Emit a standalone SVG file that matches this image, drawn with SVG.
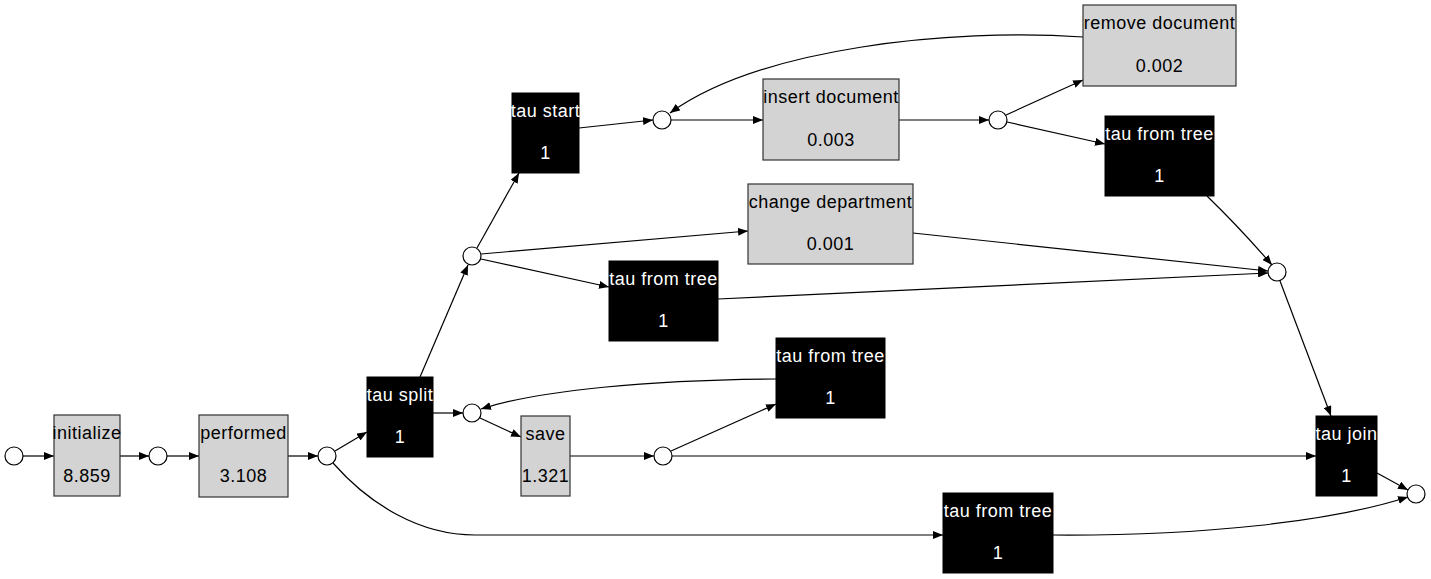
<svg xmlns="http://www.w3.org/2000/svg" width="1431" height="579" viewBox="0 0 1431 579">
<defs>
<marker id="ah" viewBox="0 0 10 8" refX="10" refY="4" markerWidth="10" markerHeight="8" markerUnits="userSpaceOnUse" orient="auto">
<path d="M0,0 L10,4 L0,8 z" fill="#000"/>
</marker>
<style>
.pl{fill:#fff;stroke:#000;stroke-width:1.2}
.tg{fill:#d3d3d3;stroke:#333;stroke-width:1.2}
.tb{fill:#000;stroke:#000;stroke-width:1}
.e{fill:none;stroke:#000;stroke-width:1.2;marker-end:url(#ah)}
text{font-family:"Liberation Sans",Arial,sans-serif;font-size:18px;letter-spacing:0.5px;text-anchor:middle}
.lg{fill:#000}
.lb{fill:#fff}
</style>
</defs>
<rect width="1431" height="579" fill="#fff"/>
<g id="connectors">
<path class="e" d="M23,456 L54,456"/>
<path class="e" d="M120,456 L149,456"/>
<path class="e" d="M167,456 L199,456"/>
<path class="e" d="M288,456 L318,456"/>
<path class="e" d="M335,451 L367,432"/>
<path class="e" d="M333,463 C370,505 420,535 475,535 L943,535"/>
<path class="e" d="M420,377 L468,265"/>
<path class="e" d="M433,413 L463,413"/>
<path class="e" d="M477,248 L519,173"/>
<path class="e" d="M481,254 L748,231"/>
<path class="e" d="M481,259 L609,287"/>
<path class="e" d="M579,128 L653,120"/>
<path class="e" d="M671,120 L763,120"/>
<path class="e" d="M899,120 L989,120"/>
<path class="e" d="M1006,115 L1083,80"/>
<path class="e" d="M1007,122 L1105,144"/>
<path class="e" d="M1083,37 C950,28 760,48 670,113"/>
<path class="e" d="M1207,196 Q1240,228 1272,265"/>
<path class="e" d="M913,233 L1268,271"/>
<path class="e" d="M718,299 L1268,273"/>
<path class="e" d="M1280,281 L1331,416"/>
<path class="e" d="M1377,473 L1408,490"/>
<path class="e" d="M1053,535 C1200,536 1330,522 1408,497"/>
<path class="e" d="M480,418 L521,437"/>
<path class="e" d="M570,456 L654,456"/>
<path class="e" d="M671,451 L776,404"/>
<path class="e" d="M672,456 L1316,456"/>
<path class="e" d="M776,379 C650,380 540,390 481,409"/>
</g>
<g id="p0"><circle class="pl" cx="14" cy="456" r="9"/></g>
<g id="p1"><circle class="pl" cx="158" cy="456" r="9"/></g>
<g id="p2"><circle class="pl" cx="327" cy="456" r="9"/></g>
<g id="p3"><circle class="pl" cx="472" cy="256" r="9"/></g>
<g id="p4"><circle class="pl" cx="472" cy="413" r="9"/></g>
<g id="p5"><circle class="pl" cx="662" cy="120" r="9"/></g>
<g id="p6"><circle class="pl" cx="998" cy="120" r="9"/></g>
<g id="p7"><circle class="pl" cx="1277" cy="272" r="9"/></g>
<g id="p8"><circle class="pl" cx="663" cy="456" r="9"/></g>
<g id="p9"><circle class="pl" cx="1416" cy="494" r="9"/></g>
<g id="t_initialize"><rect class="tg" x="54" y="415" width="66" height="81"/><text class="lg" x="87" y="439">initialize</text><text class="lg" x="87" y="482">8.859</text></g>
<g id="t_performed"><rect class="tg" x="199" y="415" width="89" height="82"/><text class="lg" x="243.5" y="439">performed</text><text class="lg" x="243.5" y="482">3.108</text></g>
<g id="t_tausplit"><rect class="tb" x="367" y="377" width="66" height="80"/><text class="lb" x="400" y="401">tau split</text><text class="lb" x="400" y="443">1</text></g>
<g id="t_save"><rect class="tg" x="521" y="416" width="49" height="80"/><text class="lg" x="545.5" y="440">save</text><text class="lg" x="545.5" y="482">1.321</text></g>
<g id="t_taustart"><rect class="tb" x="512" y="93" width="67" height="80"/><text class="lb" x="545.5" y="117">tau start</text><text class="lb" x="545.5" y="159">1</text></g>
<g id="t_insert"><rect class="tg" x="763" y="79" width="136" height="81"/><text class="lg" x="831" y="103">insert document</text><text class="lg" x="831" y="146">0.003</text></g>
<g id="t_remove"><rect class="tg" x="1083" y="5" width="153" height="81"/><text class="lg" x="1159.5" y="29">remove document</text><text class="lg" x="1159.5" y="72">0.002</text></g>
<g id="t_tau_tr"><rect class="tb" x="1105" y="116" width="109" height="80"/><text class="lb" x="1159.5" y="140">tau from tree</text><text class="lb" x="1159.5" y="182">1</text></g>
<g id="t_change"><rect class="tg" x="748" y="184" width="165" height="80"/><text class="lg" x="830.5" y="208">change department</text><text class="lg" x="830.5" y="250">0.001</text></g>
<g id="t_tau_mid"><rect class="tb" x="609" y="261" width="109" height="80"/><text class="lb" x="663.5" y="285">tau from tree</text><text class="lb" x="663.5" y="327">1</text></g>
<g id="t_tau_low"><rect class="tb" x="776" y="338" width="109" height="80"/><text class="lb" x="830.5" y="362">tau from tree</text><text class="lb" x="830.5" y="404">1</text></g>
<g id="t_tau_bot"><rect class="tb" x="943" y="493" width="110" height="80"/><text class="lb" x="998" y="517">tau from tree</text><text class="lb" x="998" y="559">1</text></g>
<g id="t_taujoin"><rect class="tb" x="1316" y="416" width="61" height="80"/><text class="lb" x="1346.5" y="440">tau join</text><text class="lb" x="1346.5" y="482">1</text></g>
</svg>
